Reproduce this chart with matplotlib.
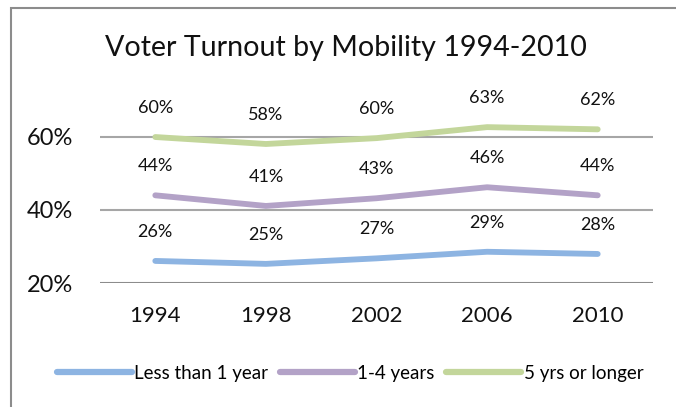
import matplotlib
matplotlib.use("Agg")
import matplotlib.pyplot as plt
from matplotlib.patches import Rectangle

years = ["1994", "1998", "2002", "2006", "2010"]
less_than_1 = [26.1, 25.3, 26.8, 28.6, 28.0]
one_to_four = [44.0, 41.1, 43.2, 46.2, 44.0]
five_plus = [59.9, 58.0, 59.6, 62.6, 62.0]
series_names = ["Less than 1 year", "1-4 years", "5 yrs or longer"]
colors = ["#8DB4E2", "#B3A2C7", "#C3D69B"]
yticks = [20, 40, 60]
title = "Voter Turnout by Mobility 1994-2010"

plt.rcParams['font.family'] = ['Lato', 'DejaVu Sans']

W, H = 676, 407
fig = plt.figure(figsize=(W / 100, H / 100), dpi=100)
fig.patch.set_facecolor("white")

# outer chart border (extends beyond right/bottom of image)
fig.add_artist(Rectangle((11 / W, -0.05), 1.2, 1 - 8 / H + 0.05, transform=fig.transFigure,
                         fill=False, edgecolor="#8c8c8c", linewidth=1.5))

ax = fig.add_axes([100 / W, (H - 283.3) / H, 553 / W, (283.3 - 100) / H])
x = list(range(len(years)))
for vals, name, c in zip([less_than_1, one_to_four, five_plus], series_names, colors):
    ax.plot(x, vals, color=c, linewidth=4.2, solid_capstyle="round", label=name, zorder=3)
    for xi, v in zip(x, vals):
        ax.annotate(f"{round(v):.0f}%", (xi, v), xytext=(0, 21), textcoords="offset points",
                    ha="center", va="center", fontsize=13, color="#111111")

ax.set_xlim(-0.5, len(years) - 0.5)
ax.set_ylim(20, 70)
ax.set_yticks(yticks)
ax.set_yticklabels([f"{t}%" for t in yticks], fontsize=17)
ax.set_xticks(x)
ax.set_xticklabels(years, fontsize=16)
ax.tick_params(axis="both", length=0, colors="#111111")
ax.tick_params(axis="y", pad=19.5)
ax.tick_params(axis="x", pad=16)
for t in yticks:
    ax.axhline(t, color="#a6a6a6" if t != 20 else "#8c8c8c", linewidth=1.5, zorder=1)
for s in ax.spines.values():
    s.set_visible(False)

fig.text(346 / W, (H - 48) / H, title, ha="center", va="center", fontsize=20.6, color="#111111")

handles, labels = ax.get_legend_handles_labels()
leg = fig.legend(handles, labels, loc="center", bbox_to_anchor=(350 / W, (H - 373) / H), ncol=3,
                 frameon=False, fontsize=13.5, handlelength=4.0, handletextpad=0.15, columnspacing=0.6)
for ln in leg.get_lines():
    ln.set_linewidth(4.5)

fig.savefig("out.png", dpi=100)
